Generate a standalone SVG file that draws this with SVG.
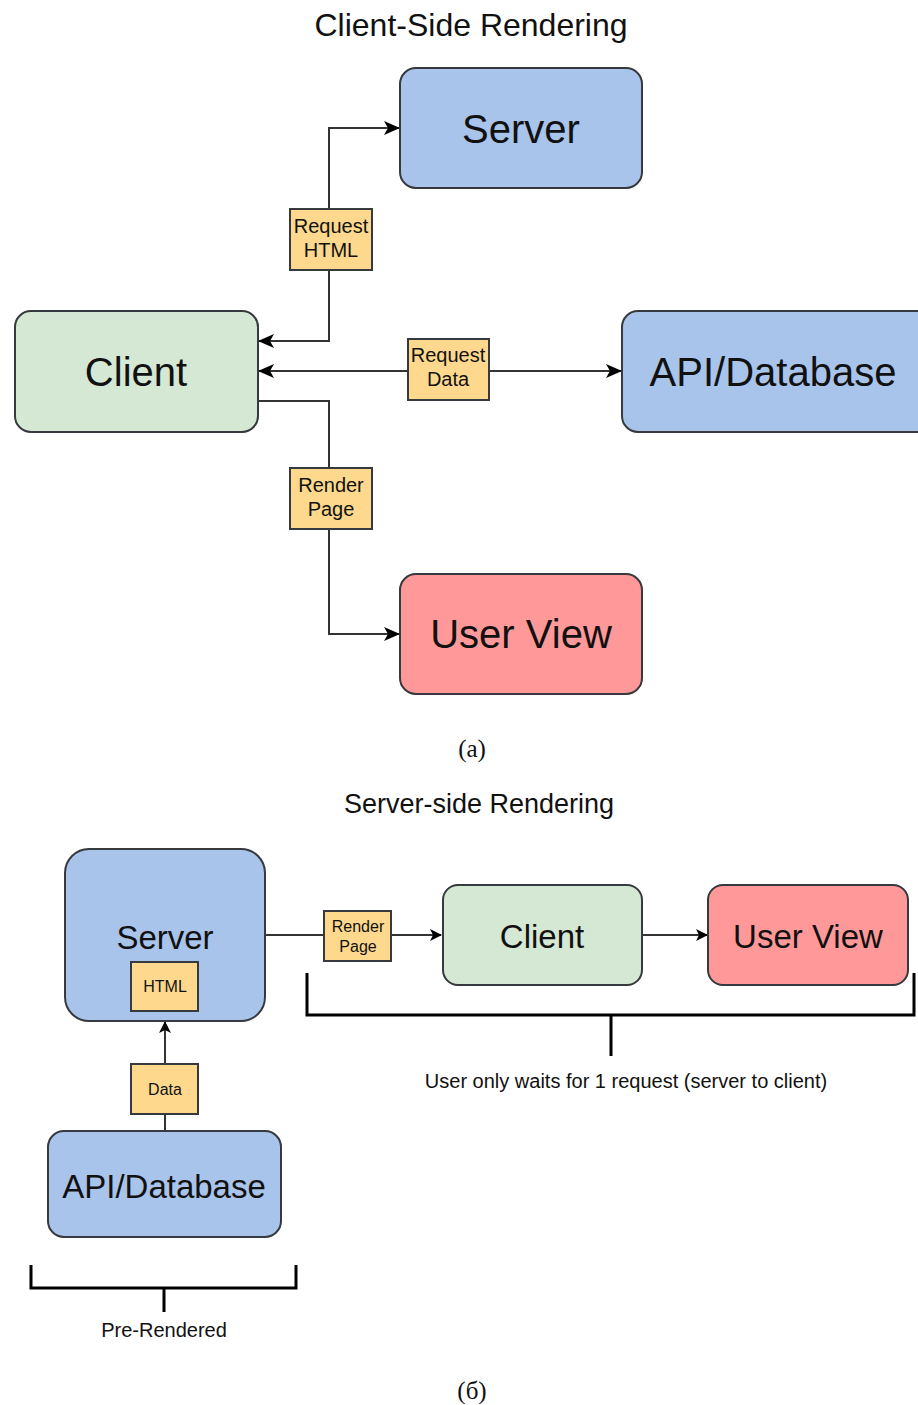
<svg xmlns="http://www.w3.org/2000/svg" width="918" height="1405" viewBox="0 0 918 1405">
  <style>
    text { font-family: "Liberation Sans", Arial, sans-serif; fill: #111; text-anchor: middle; dominant-baseline: central; }
    .cap { font-family: "Liberation Serif", "Times New Roman", serif; font-size: 25px; }
    .node { stroke: #36393d; stroke-width: 2; }
    .blue { fill: #a9c4eb; }
    .green { fill: #d5e8d4; }
    .red { fill: #ff9999; }
    .tag { fill: #fed98d; stroke: #36393d; stroke-width: 2; }
    .wire { fill: none; stroke: #333; stroke-width: 2; }
    .brace { fill: none; stroke: #000; stroke-width: 3; }
  </style>
  <defs>
    <marker id="arrow" viewBox="0 0 16 14" refX="15" refY="7" markerWidth="16" markerHeight="14" markerUnits="userSpaceOnUse" orient="auto-start-reverse">
      <path d="M0,0 L16,7 L0,14 L4,7 Z" fill="#000"/>
    </marker>
    <marker id="arrow-s" viewBox="0 0 12 12" refX="11" refY="6" markerWidth="12" markerHeight="12" markerUnits="userSpaceOnUse" orient="auto-start-reverse">
      <path d="M0,0 L12,6 L0,12 L3,6 Z" fill="#000"/>
    </marker>
  </defs>
  <rect width="918" height="1405" fill="#fff"/>

  <!-- Client-side rendering -->
  <text x="471" y="25" font-size="32">Client-Side Rendering</text>

  <g id="connectors-top">
    <path class="wire" d="M259,341 H329 V128 H399" marker-start="url(#arrow)" marker-end="url(#arrow)"/>
    <path class="wire" d="M259,371 H621" marker-start="url(#arrow)" marker-end="url(#arrow)"/>
    <path class="wire" d="M259,401 H329 V634 H399" marker-end="url(#arrow)"/>
  </g>

  <g id="csr-server">
    <rect class="node blue" x="400" y="68" width="242" height="120" rx="16"/>
    <text x="521" y="129" font-size="40">Server</text>
  </g>
  <g id="csr-client">
    <rect class="node green" x="15" y="311" width="243" height="121" rx="16"/>
    <text x="136" y="372" font-size="40">Client</text>
  </g>
  <g id="csr-api">
    <rect class="node blue" x="622" y="311" width="310" height="121" rx="16"/>
    <text x="773" y="372" font-size="40">API/Database</text>
  </g>
  <g id="csr-userview">
    <rect class="node red" x="400" y="574" width="242" height="120" rx="16"/>
    <text x="521" y="634" font-size="40">User View</text>
  </g>

  <g id="label-request-html">
    <rect class="tag" x="290" y="209" width="82" height="61"/>
    <text x="331" y="226" font-size="20">Request</text>
    <text x="331" y="250" font-size="20">HTML</text>
  </g>
  <g id="label-request-data">
    <rect class="tag" x="408" y="339" width="81" height="61"/>
    <text x="448" y="355" font-size="20">Request</text>
    <text x="448" y="379" font-size="20">Data</text>
  </g>
  <g id="label-render-page">
    <rect class="tag" x="290" y="468" width="82" height="61"/>
    <text x="331" y="485" font-size="20">Render</text>
    <text x="331" y="509" font-size="20">Page</text>
  </g>

  <text class="cap" x="472" y="748">(a)</text>

  <!-- Server-side rendering -->
  <text x="479" y="804" font-size="27">Server-side Rendering</text>

  <g id="connectors-bottom">
    <path class="wire" d="M265,935 H441" marker-end="url(#arrow-s)"/>
    <path class="wire" d="M642,935 H707" marker-end="url(#arrow-s)"/>
    <path class="wire" d="M165,1131 V1022" marker-end="url(#arrow-s)"/>
  </g>

  <g id="ssr-server">
    <rect class="node blue" x="65" y="849" width="200" height="172" rx="24"/>
    <text x="165" y="937" font-size="33">Server</text>
    <rect class="tag" x="131" y="962" width="67" height="49"/>
    <text x="165" y="986" font-size="16">HTML</text>
  </g>
  <g id="label-render-page-2">
    <rect class="tag" x="324" y="911" width="67" height="50"/>
    <text x="358" y="926" font-size="16">Render</text>
    <text x="358" y="946" font-size="16">Page</text>
  </g>
  <g id="ssr-client">
    <rect class="node green" x="443" y="885" width="199" height="100" rx="15"/>
    <text x="542" y="936" font-size="33">Client</text>
  </g>
  <g id="ssr-userview">
    <rect class="node red" x="708" y="885" width="200" height="100" rx="15"/>
    <text x="808" y="936" font-size="33">User View</text>
  </g>
  <g id="label-data">
    <rect class="tag" x="131" y="1064" width="67" height="50"/>
    <text x="165" y="1089" font-size="16">Data</text>
  </g>
  <g id="ssr-api">
    <rect class="node blue" x="48" y="1131" width="233" height="106" rx="16"/>
    <text x="164" y="1186" font-size="33">API/Database</text>
  </g>

  <g id="bracket-wait">
    <path class="brace" d="M307,973 V1015 H914 V973 M611,1015 V1056"/>
    <text x="626" y="1081" font-size="20">User only waits for 1 request (server to client)</text>
  </g>
  <g id="bracket-prerendered">
    <path class="brace" d="M31,1265 V1288 H296 V1265 M164,1288 V1312"/>
    <text x="164" y="1330" font-size="20">Pre-Rendered</text>
  </g>

  <text class="cap" x="472" y="1390">(б)</text>
</svg>
